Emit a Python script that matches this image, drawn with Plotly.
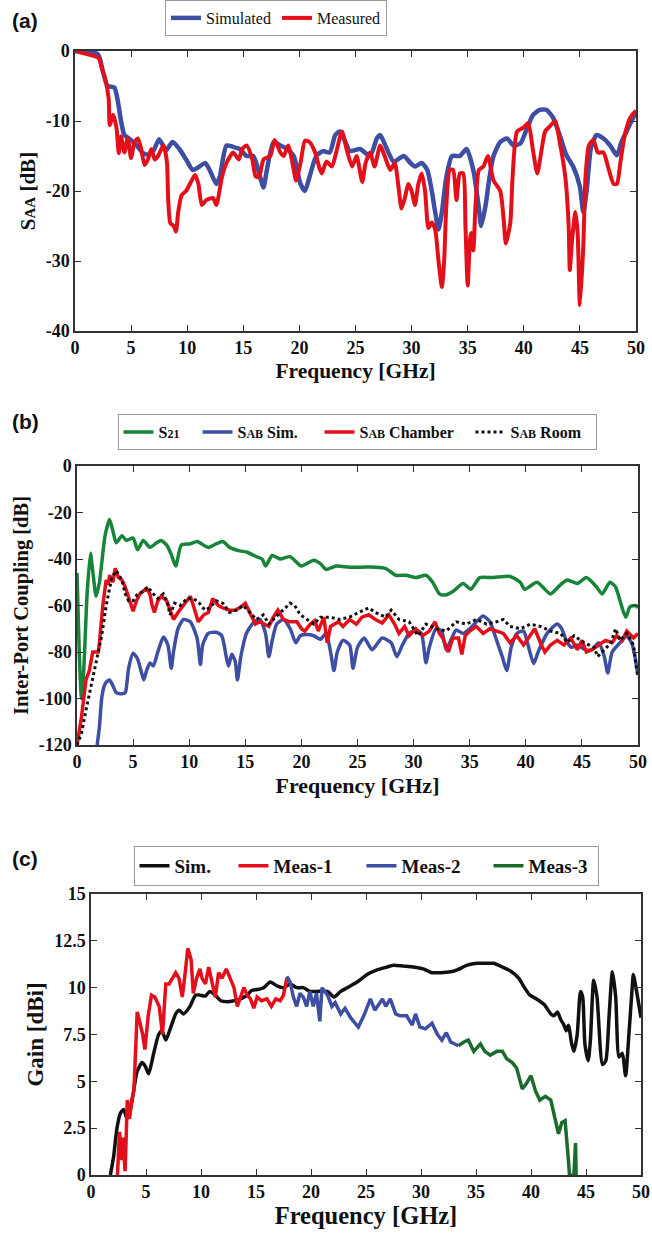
import plotly.graph_objects as go

# ---------------- Panel (a): S_AA ----------------
a_sim_f = [0, 1.0, 2.0, 2.2, 2.5, 2.9, 3.5, 3.8, 4.1, 4.4, 4.9, 5.5, 6.0, 6.5, 7.0, 7.5, 8.1, 8.7, 9.3, 9.9,
           10.5, 11.1, 11.6, 12.0, 12.6, 12.9, 13.5, 14.1, 14.7, 15.3, 15.9, 16.5, 16.8, 17.1, 17.7, 18.3, 18.9,
           19.5, 20.1, 20.5, 20.9, 21.5, 22.1, 22.7, 23.2, 23.6, 24.1, 24.5, 25.4, 26.3, 26.9, 27.2, 27.8, 28.4,
           29.3, 29.9, 30.3, 30.9, 31.4, 31.8, 32.1, 32.4, 32.7, 33.1, 33.6, 34.3, 34.9, 35.5, 36.0, 36.2, 36.6,
           36.9, 37.3, 37.9, 38.5, 39.1, 39.7, 40.3, 40.8, 41.4, 42.0, 42.6, 43.2, 43.8, 44.4, 45.0, 45.3, 45.6,
           46.0, 46.5, 47.1, 47.7, 48.3, 48.7, 49.3, 50.0]
a_sim_v = [0, -0.1, -0.4, -1, -3, -5, -5.2, -7, -10, -12, -12.6, -13.5, -14.5, -14.8, -14.2, -12.6, -14.2, -13, -14, -15.5,
           -17, -16.5, -16, -17, -19, -18, -13.5, -13.7, -14, -15, -15, -18, -19.5, -17, -13, -13.5, -14,
           -15, -19, -20, -18, -15, -14.3, -14.5, -12, -11.5, -13, -14.3, -14, -15, -12.5, -12, -14, -15.8,
           -15, -16, -16.5, -16, -17, -20, -23, -25.5, -23, -18, -15, -15, -14, -17, -22.5, -25, -22,
           -18.5, -15, -13, -12.5, -13.5, -13.2, -11, -9.2, -8.4, -8.4, -9.5, -12, -14.9, -16.5, -19.4, -23, -20,
           -13.7, -12, -12.5, -13.5, -14.9, -13, -11, -8.7]

a_meas_f = [0, 0.7, 2.1, 2.4, 2.7, 3.0, 3.1, 3.4, 3.7, 3.9, 4.1, 4.4, 4.7, 5.0, 5.3, 5.6, 5.9, 6.2, 6.5, 6.8,
            7.1, 7.4, 7.7, 7.9, 8.2, 8.3, 8.5, 8.8, 9.0, 9.2, 9.5, 9.9, 10.4, 10.7, 11.0, 11.3, 11.7, 12.3,
            12.6, 13.1, 13.5, 14.1, 14.6, 14.9, 15.3, 15.8, 16.1, 16.4, 16.8, 17.4, 17.8, 18.3, 18.6, 19.0,
            19.5, 19.7, 20.1, 20.5, 20.9, 21.4, 21.8, 22.0, 22.4, 22.9, 23.2, 23.8, 24.2, 24.7, 25.1, 25.6,
            25.9, 26.3, 26.7, 27.2, 27.6, 28.1, 28.5, 28.8, 29.1, 29.4, 29.7, 30.0, 30.3, 30.6, 30.9, 31.2,
            31.5, 31.8, 32.1, 32.4, 32.7, 32.9, 33.1, 33.4, 33.7, 34.0, 34.3, 34.6, 34.8, 35.0, 35.2, 35.3,
            35.5, 35.7, 36.0, 36.4, 36.8, 37.3, 37.9, 38.2, 38.4, 38.8, 39.0, 39.4, 40.0, 40.4, 40.8, 41.2,
            41.5, 41.9, 42.3, 42.8, 43.2, 43.7, 44.0, 44.1, 44.3, 44.6, 44.8, 45.0, 45.3, 45.5, 45.8, 46.2,
            46.6, 47.1, 47.5, 48.0, 48.3, 48.6, 49.0, 49.5, 50.0]
a_meas_v = [0, -0.3, -1, -2.5, -4, -6.8, -10.6, -9.1, -11, -14.6, -12.2, -14.5, -12.5, -15.3, -13, -12.5, -14, -16.3, -15.5, -14,
            -15.5, -15, -14, -13.5, -16, -21, -24.6, -25, -25.8, -23, -20.6, -20, -18.5, -17.7, -19, -22, -21.3, -21,
            -22, -18, -16, -14.5, -15.5, -14, -13.5, -15.5, -17.9, -18, -15.5, -15, -12.7, -14.5, -15, -13.5,
            -17, -18.5, -16, -12.8, -13, -14.5, -16.8, -17.5, -15.8, -16.5, -15, -11.5, -14, -16.5, -15, -18.7,
            -16, -14.5, -16.5, -13.5, -15, -17, -16, -19, -22.5, -21, -19, -20, -22, -19, -17.5, -20,
            -25.3, -24.5, -25.5, -30, -33.7, -30, -22, -17, -17, -21.3, -17.5, -17.5, -25, -33.5, -27, -26,
            -28.5, -22, -17, -16.5, -15, -18.5, -20, -24, -27.5, -24.5, -18, -11.5, -10.9, -10.3, -14, -17.5,
            -15, -11.5, -10.8, -10, -13, -18, -25, -31.3, -27, -23, -26, -36.3, -28, -18, -13.5, -12.7,
            -14.5, -14.5, -16.5, -19, -19, -16, -12, -9.5, -8.5]

# ---------------- Panel (b): inter-port coupling ----------------
b_s21_f = [0, 0.2, 0.4, 0.6, 0.9, 1.2, 1.4, 1.7, 2.0, 2.5, 2.9, 3.2, 3.5, 4.0, 4.4, 5.0, 5.4, 5.9, 6.5, 7.1,
           7.5, 8.0, 8.4, 8.8, 9.3, 10.1, 10.7, 11.7, 12.4, 13.0, 13.6, 14.5, 15.1, 16.0, 16.5, 16.8, 17.4,
           18.1, 19.0, 20.0, 21.1, 21.7, 22.2, 23.1, 24.3, 25.4, 26.6, 27.5, 28.4, 29.3, 30.2, 31.1, 31.7,
           32.3, 32.8, 33.5, 34.4, 35.1, 35.9, 37.1, 38.6, 39.5, 39.9, 41.0, 42.2, 43.1, 43.7, 44.6, 45.4,
           46.3, 46.8, 47.5, 48.0, 48.4, 48.9, 49.3, 49.8, 50.0]
b_s21_v = [-46, -80, -100, -88, -55, -37.5, -45, -56, -50, -30, -23, -28, -33, -30, -32, -31, -36, -32, -35, -33,
           -32, -34, -38, -43, -34, -33.5, -32.5, -35, -33.5, -32.5, -35, -36.5, -37, -39, -40, -43, -38.5,
           -40, -39, -43, -40.5, -42, -44.5, -43, -43.5, -43.5, -43.5, -44, -47, -47, -48, -47, -50,
           -55, -55.5, -54, -50.5, -53, -48, -48, -47.5, -50, -53, -50, -55, -51, -49, -50.5, -48,
           -52, -55, -50, -52, -58, -65, -60.5, -60, -61]

b_sim_f = [1.8, 2.0, 2.2, 2.4, 2.6, 2.9, 3.2, 3.5, 4.0, 4.3, 4.6, 5.0, 5.4, 5.7, 5.95, 6.2, 6.5, 6.8, 7.2, 7.7,
           8.1, 8.4, 8.6, 9.0, 9.5, 10.1, 10.7, 11.0, 11.2, 11.7, 12.4, 12.9, 13.3, 13.5, 13.8, 14.1, 14.3,
           14.6, 15.1, 15.7, 16.3, 16.8, 17.1, 17.4, 17.8, 18.4, 19.0, 19.5, 19.9, 20.5, 21.1, 21.7, 22.2,
           22.6, 22.9, 23.2, 23.7, 24.3, 24.6, 25.0, 25.6, 26.3, 27.2, 28.0, 28.5, 29.0, 29.6, 30.2, 30.7,
           31.1, 31.4, 32.0, 32.5, 32.9, 33.4, 33.8, 34.4, 35.0, 35.6, 36.2, 36.8, 37.4, 37.9, 38.3, 38.7,
           39.2, 39.8, 40.2, 40.7, 41.1, 41.9, 42.8, 43.2, 43.7, 44.1, 44.6, 45.3, 45.9, 46.5, 47.0, 47.3,
           47.7, 48.4, 49.0, 49.5, 50.0]
b_sim_v = [-120, -112, -100, -95, -93, -92, -94.5, -97.5, -98, -97.5, -87, -80.5, -83, -88, -92, -88, -84.7, -86, -80, -73.5,
           -77, -87, -80, -70, -66, -67, -74, -85.4, -77, -72, -71.5, -73, -82, -86, -81, -84, -92,
           -82, -72, -67.5, -66, -72, -82, -75, -68, -66, -70, -76, -73, -72.5, -73, -74.5, -72,
           -80, -88, -80, -75, -77, -87, -78, -74, -79, -74, -76, -82, -77, -72, -70.5, -72,
           -84.6, -78, -70, -71, -79, -74, -70.5, -72, -70, -67, -64.5, -67, -75, -82, -88, -78,
           -72, -71, -77, -85, -80, -72, -68, -70, -76, -78, -77, -79, -79, -76, -82, -89,
           -80, -76, -73, -77, -90]

b_ch_f = [0, 0.4, 0.8, 1.1, 1.4, 1.9, 2.0, 2.3, 2.6, 2.8, 2.9, 3.2, 3.4, 3.7, 4.0, 4.3, 4.7, 5.0, 5.3, 5.6,
          6.2, 6.5, 6.7, 6.9, 7.2, 7.5, 8.0, 8.3, 8.6, 9.0, 9.5, 10.1, 10.5, 10.8, 11.3, 11.7, 12.1, 12.6,
          13.0, 13.6, 14.1, 14.5, 15.0, 15.4, 15.9, 16.3, 16.8, 17.1, 17.5, 17.9, 18.4, 19.0, 19.6, 20.0,
          20.3, 20.8, 21.2, 21.5, 22.0, 22.3, 22.6, 23.3, 23.7, 24.3, 24.9, 25.4, 26.0, 26.6, 27.2, 27.8,
          28.3, 28.7, 29.2, 29.6, 30.2, 30.8, 31.4, 31.9, 32.3, 32.6, 33.1, 33.5, 34.0, 34.3, 34.6, 35.0,
          35.6, 36.2, 36.8, 37.4, 38.0, 38.6, 39.2, 39.8, 40.4, 40.8, 41.3, 41.7, 42.2, 42.8, 43.4, 44.0,
          44.6, 45.0, 45.4, 45.9, 46.5, 47.1, 47.7, 48.1, 48.6, 49.0, 49.6, 50.0]
b_ch_v = [-120, -108, -92, -88, -80, -80, -76, -60, -49, -51, -47, -50, -44, -48, -49, -52, -58, -62.5, -58, -55,
          -52.6, -55, -60, -63, -58, -56, -58, -62, -66, -63, -60, -56, -62, -67, -64, -63, -57, -60,
          -61, -62, -62, -61, -59, -63, -68, -67, -68, -69, -65, -62, -66, -67, -67, -70,
          -71, -68, -66.5, -71, -65, -76, -69, -67, -69, -66, -68, -65, -64, -66, -67.5, -64,
          -68, -72, -69, -73, -70, -73, -71, -67, -72, -74, -80, -74, -74, -81, -73, -71,
          -69, -72, -70, -71, -72, -76, -73, -77, -73, -70, -76, -80, -77, -75, -77, -74,
          -79, -75, -80, -79, -77, -75, -76, -73, -75, -71, -74, -72]

b_room_f = [0, 0.4, 0.8, 1.3, 1.7, 2.2, 2.6, 3.1, 3.5, 4.0, 4.3, 4.6, 5.0, 5.4, 5.9, 6.3, 6.8, 7.2, 7.7, 8.0,
            8.3, 8.7, 9.2, 9.8, 10.4, 10.9, 11.4, 11.8, 12.4, 13.0, 13.6, 14.2, 14.8, 15.4, 16.0, 16.6, 17.1,
            17.7, 18.4, 19.0, 19.4, 19.9, 20.5, 21.1, 21.7, 22.5, 23.4, 24.3, 25.1, 26.0, 26.6, 27.5, 28.0,
            28.7, 29.6, 30.4, 31.1, 32.0, 32.9, 33.8, 34.7, 35.6, 36.5, 37.4, 38.0, 38.6, 39.5, 40.4, 41.3,
            42.2, 43.1, 43.7, 44.3, 45.2, 46.1, 46.4, 47.0, 47.6, 48.0, 48.4, 49.0, 49.6, 49.8, 50.0]
b_room_v = [-120, -115, -105, -93, -85, -73, -60, -48, -45, -49, -55, -58, -58, -55, -54, -52, -55, -57, -55, -58,
            -64, -59, -60, -57, -57, -59, -62, -61, -58, -59, -63, -62, -60, -63, -66, -64, -68,
            -65, -62, -59, -60, -64, -66, -68, -65, -65, -66, -65, -63, -61, -63, -65, -62,
            -66, -67, -73, -68, -70, -71, -67, -68, -66, -68, -67, -66, -69, -70, -68, -69,
            -71, -72, -76, -73, -76, -78, -82, -79, -76, -70, -75, -72, -77, -85, -91]

# ---------------- Panel (c): gain ----------------
c_sim_f = [1.76, 2.06, 2.36, 2.67, 2.97, 3.27, 3.58, 3.88, 4.18, 4.64, 4.94, 5.24, 5.7, 6.15, 6.45, 6.8, 7.2, 7.7,
           8.0, 8.4, 9.0, 9.5, 9.9, 10.4, 10.8, 11.3, 11.8, 12.4, 13.0, 13.6, 14.2, 14.6, 15.1, 15.7, 16.3,
           16.9, 17.5, 18.1, 18.7, 19.3, 19.9, 20.5, 21.5, 22.1, 22.7, 23.3, 24.2, 25.1, 26.0, 26.9, 27.5,
           28.4, 29.3, 30.2, 31.0, 31.8, 32.7, 33.3, 34.2, 35.1, 36.0, 36.6, 37.4, 38.1, 38.9, 39.3, 39.9,
           40.5, 41.2, 41.8, 42.1, 42.4, 42.7, 43.0, 43.2, 43.4, 43.7, 43.9, 44.2, 44.5, 44.7, 44.9, 45.2,
           45.4, 45.7, 46.0, 46.5, 46.8, 47.1, 47.4, 47.7, 48.0, 48.3, 48.6, 48.9, 49.2, 49.3, 49.6, 50.0]
c_sim_v = [0, 1.0, 2.5, 3.3, 3.5, 3.0, 3.5, 4.5, 5.5, 6.0, 5.8, 5.4, 6.5, 7.5, 7.7, 7.2, 7.8, 8.6,
           8.8, 8.6, 9.0, 9.6, 9.6, 9.55, 9.8, 9.6, 9.3, 9.25, 9.3, 9.4, 9.6, 9.85, 9.9, 10.0, 10.3,
           10.1, 10.0, 10.2, 10.0, 10.0, 9.8, 9.8, 9.8, 9.5, 9.8, 10.0, 10.3, 10.7, 10.95, 11.1, 11.2,
           11.15, 11.1, 11.0, 10.8, 10.8, 10.85, 10.95, 11.2, 11.3, 11.3, 11.3, 11.1, 10.9, 10.5, 10.1, 9.6,
           9.4, 9.1, 8.6, 8.5, 8.7, 8.3, 8.0, 7.7, 8.0, 7.0, 6.6, 7.5, 9.8, 9.5, 7.0, 6.1,
           7.2, 10.4, 9.5, 5.9, 6.1, 8.5, 10.85, 9.5, 6.3, 6.5, 5.3, 7.5, 10.0, 10.7, 9.8, 8.4]

c_m1_f = [2.4, 2.6, 2.8, 2.9, 3.1, 3.3, 3.5, 3.7, 3.9, 4.2, 4.5, 4.7, 4.9, 5.2, 5.5, 5.8, 6.2, 6.5, 6.8, 7.1,
          7.4, 7.7, 8.0, 8.3, 8.6, 8.8, 9.1, 9.3, 9.6, 9.9, 10.1, 10.4, 10.7, 11.0, 11.3, 11.6, 11.9, 12.3,
          12.7, 13.0, 13.3, 13.6, 13.9, 14.2, 14.5, 14.8, 15.1, 15.5, 16.0, 16.4, 16.8, 17.2, 17.5, 17.8]
c_m1_v = [0, 2.3, 0.8, 2.0, 0.2, 4.0, 3.0, 4.0, 4.5, 8.7, 8.0, 7.5, 6.7, 8.5, 9.6, 9.5, 9.0, 7.5, 10.2, 10.2,
          10.5, 10.8, 10.5, 9.5, 11.0, 12.1, 11.5, 9.7, 10.5, 11.0, 10.5, 10.2, 11.1, 10.3, 9.5, 10.8, 10.5, 11.0,
          10.4, 10.0, 9.0, 9.5, 10.0, 9.6, 9.4, 8.9, 9.5, 9.3, 9.4, 9.0, 9.4, 9.3, 9.6, 10.5]

c_m2_f = [17.8, 18.1, 18.4, 18.7, 19.0, 19.3, 19.6, 19.9, 20.2, 20.5, 20.8, 21.0, 21.5, 21.9, 22.2, 22.7, 23.1,
          23.6, 24.3, 24.8, 25.4, 25.8, 26.5, 26.8, 27.2, 27.7, 28.1, 28.7, 29.2, 29.5, 29.9, 30.4, 31.0,
          31.5, 31.9, 32.3, 32.7, 33.1, 33.4]
c_m2_v = [10.6, 10.3, 9.5, 9.0, 9.7, 9.5, 9.0, 9.8, 9.0, 9.7, 8.2, 10.0, 9.6, 9.0, 9.2, 8.6, 8.9,
          8.4, 7.9, 8.5, 9.4, 8.8, 9.4, 9.0, 9.4, 8.6, 8.5, 8.5, 8.0, 8.6, 7.9, 7.8, 8.1,
          7.5, 7.2, 7.6, 7.1, 7.0, 6.9]

c_m3_f = [33.4, 33.9, 34.3, 34.8, 35.4, 35.8, 36.3, 36.9, 37.4, 37.8, 38.3, 38.7, 39.2, 39.6, 40.0, 40.4, 40.8,
          41.3, 41.8, 42.1, 42.5, 42.8, 43.1, 43.4, 43.5, 43.7, 43.9, 44.05, 44.1]
c_m3_v = [6.9, 7.1, 7.2, 6.6, 7.0, 6.6, 6.4, 6.6, 6.6, 6.2, 6.0, 5.7, 4.6, 4.9, 5.3, 4.5, 4.0,
          4.2, 4.0, 3.2, 2.2, 2.8, 2.9, 0.8, 0, 0, 0, 1.7, 0]

# ---------------- ticks ----------------
freq_ticks = [0, 5, 10, 15, 20, 25, 30, 35, 40, 45, 50]
freq_text = ["0", "5", "10", "15", "20", "25", "30", "35", "40", "45", "50"]
a_yticks = [0, -10, -20, -30, -40]
a_ytext = ["0", "-10", "-20", "-30", "-40"]
b_yticks = [0, -20, -40, -60, -80, -100, -120]
b_ytext = ["0", "-20", "-40", "-60", "-80", "-100", "-120"]
c_yticks = [0, 2.5, 5, 7.5, 10, 12.5, 15]
c_ytext = ["0", "2.5", "5", "7.5", "10", "12.5", "15"]

BLUE = "#3d4ea3"
RED = "#e3101b"
GREEN_B = "#17843a"
GREEN_C = "#1c6a2c"
BLACK = "#111111"
SERIF = "Liberation Serif"
W = 652
H = 1236

fig = go.Figure()
sm = 0.6

def add(x, y, name, color, xa, ya, leg, lw, width=4, dash=None, shape="spline"):
    fig.add_trace(go.Scatter(x=x, y=y, name=name, mode="lines", xaxis=xa, yaxis=ya, legend=leg,
                             legendwidth=lw,
                             line=dict(color=color, width=width, dash=dash, shape=shape,
                                       smoothing=sm if shape == "spline" else None)))

add(a_sim_f, a_sim_v, "Simulated", BLUE, "x", "y", "legend", 66, width=4.5)
add(a_meas_f, a_meas_v, "Measured", RED, "x", "y", "legend", 64, width=4)

small = "<span style='font-size:12px'>%s</span>"
add(b_s21_f, b_s21_v, "S" + small % "21", GREEN_B, "x2", "y2", "legend2", 34, width=3.5)
add(b_sim_f, b_sim_v, "S" + small % "AB" + " Sim.", BLUE, "x2", "y2", "legend2", 77, width=3.5)
add(b_ch_f, b_ch_v, "S" + small % "AB" + " Chamber", RED, "x2", "y2", "legend2", 106, width=3.5, shape="linear")
add(b_room_f, b_room_v, "S" + small % "AB" + " Room", BLACK, "x2", "y2", "legend2", 80, width=3, dash="dot", shape="linear")

add(c_sim_f, c_sim_v, "Sim.", BLACK, "x3", "y3", "legend3", 54, width=3.5)
add(c_m1_f, c_m1_v, "Meas-1", RED, "x3", "y3", "legend3", 83, width=3.5, shape="linear")
add(c_m2_f, c_m2_v, "Meas-2", BLUE, "x3", "y3", "legend3", 82, width=3.5, shape="linear")
add(c_m3_f, c_m3_v, "Meas-3", GREEN_C, "x3", "y3", "legend3", 64, width=3.5, shape="linear")

tickfont = dict(family=SERIF, size=18, color="#111", weight="bold")

def xax(dom, anchor, tsize):
    return dict(domain=dom, anchor=anchor, range=[0, 50], tickvals=freq_ticks, ticktext=freq_text,
                ticks="inside", ticklen=6, tickwidth=1.2, tickcolor="#333", showline=True, linecolor="#333",
                linewidth=1.5, mirror="ticks", showgrid=False, zeroline=False, tickfont=tickfont,
                automargin=False,
                title=dict(text="Frequency [GHz]", font=dict(family=SERIF, size=tsize, color="#111", weight="bold"),
                           standoff=6))

def yax(dom, anchor, rng, tv, tt, title, tsize):
    return dict(domain=dom, anchor=anchor, range=rng, tickvals=tv, ticktext=tt,
                ticks="inside", ticklen=6, tickwidth=1.2, tickcolor="#333", showline=True, linecolor="#333",
                linewidth=1.5, mirror="ticks", showgrid=False, zeroline=False, tickfont=tickfont,
                automargin=False,
                title=dict(text=title, font=dict(family=SERIF, size=tsize, color="#111", weight="bold"), standoff=4))

def py(pix):
    return 1 - pix / H

legbase = dict(xanchor="center", yanchor="middle", orientation="h", bordercolor="#999", borderwidth=1,
               bgcolor="white", itemwidth=30)

fig.update_layout(
    width=W, height=H, margin=dict(l=0, r=0, t=0, b=0, autoexpand=False),
    paper_bgcolor="white", plot_bgcolor="white", showlegend=True,
    font=dict(family=SERIF, color="#111"),
    xaxis=xax([75 / W, 636 / W], "y", 21.5),
    yaxis=yax([py(331), py(51)], "x", [-40, 0], a_yticks, a_ytext,
              "S<span style='font-size:15px'>AA</span> [dB]", 21),
    xaxis2=xax([77 / W, 638 / W], "y2", 22),
    yaxis2=yax([py(745), py(466)], "x2", [-120, 0], b_yticks, b_ytext, "Inter-Port Coupling [dB]", 20.5),
    xaxis3=xax([91 / W, 641 / W], "y3", 24.5),
    yaxis3=yax([py(1175), py(894)], "x3", [0, 15], c_yticks, c_ytext, "Gain [dBi]", 23),
    legend=dict(legbase, x=276 / W, y=py(18), font=dict(family=SERIF, size=16, color="#111")),
    legend2=dict(legbase, x=357 / W, y=py(432), font=dict(family=SERIF, size=16, color="#111", weight="bold")),
    legend3=dict(legbase, x=366 / W, y=py(866), font=dict(family=SERIF, size=19, color="#111", weight="bold")),
)

for lab, ypix in (("(a)", 20), ("(b)", 421), ("(c)", 858)):
    fig.add_annotation(text="<b>" + lab + "</b>", x=10 / W, y=py(ypix), xref="paper", yref="paper",
                       xanchor="left", yanchor="middle", showarrow=False,
                       font=dict(family="Liberation Sans", size=21, color="#111"))

fig.write_html("out.html")
